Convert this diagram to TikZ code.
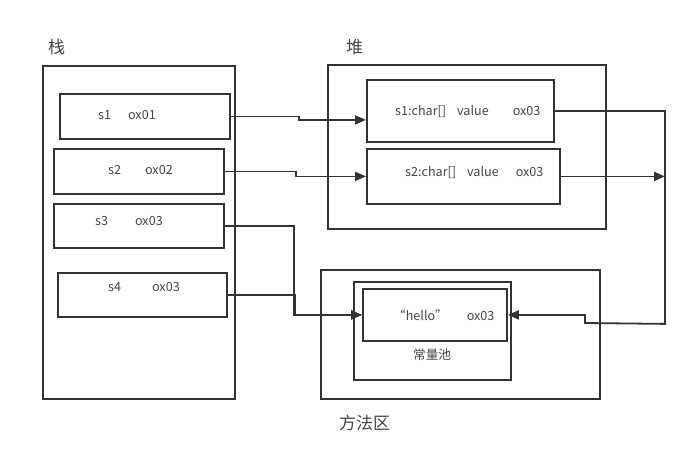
\documentclass[tikz,border=0pt]{standalone}
\usepackage{fontspec}
\setmainfont{Noto Sans CJK SC}
\usetikzlibrary{arrows.meta}
\definecolor{ln}{HTML}{333333}
\definecolor{tx}{HTML}{444444}
\tikzset{
  box/.style={draw=ln, line width=1.8pt, inner sep=0pt, anchor=north west},
  txt/.style={text=tx, font=\fontsize{12.6}{14}\selectfont, inner sep=0pt, anchor=west},
  big/.style={text=tx, font=\fontsize{17}{20}\selectfont, inner sep=0pt, anchor=west},
  conn/.style={draw=ln, line width=1.8pt, -{Triangle[length=11pt,width=9pt]}},
  plain/.style={draw=ln, line width=1.8pt}
}
\begin{document}
\begin{tikzpicture}[x=1pt,y=-1pt]
\useasboundingbox (0,0) rectangle (690,466);
% containers
\node[box, minimum width=192pt, minimum height=333pt] (stack) at (42,65) {};
\node[box, minimum width=278pt, minimum height=164pt] (heap) at (327,64) {};
\node[box, minimum width=279pt, minimum height=129pt] (method) at (320,269) {};
\node[box, minimum width=157pt, minimum height=98pt] (pool) at (353,281) {};
% stack entries
\node[box, minimum width=170pt, minimum height=45pt] (s1) at (59,93) {};
\node[box, minimum width=170pt, minimum height=45pt] (s2) at (53,148) {};
\node[box, minimum width=170pt, minimum height=44pt] (s3) at (53,203) {};
\node[box, minimum width=169pt, minimum height=44pt] (s4) at (57,272) {};
% heap entries
\node[box, minimum width=187pt, minimum height=62pt] (h1) at (366,79) {};
\node[box, minimum width=193pt, minimum height=55pt] (h2) at (366,148) {};
% constant
\node[box, minimum width=144pt, minimum height=52pt] (hello) at (362,288) {};
% labels
\node[big] (lstack) at (48,47) {栈};
\node[big] (lheap) at (346,47) {堆};
\node[big] (lmethod) at (339,423) {方法区};
\node[txt] (lpool) at (413,355) {常量池};
\node[txt] (t1) at (98,115) {s1\hspace{17pt}ox01};
\node[txt] (t2) at (108,170) {s2\hspace{24pt}ox02};
\node[txt] (t3) at (95,221) {s3\hspace{27pt}ox03};
\node[txt] (t4) at (108,287) {s4\hspace{31pt}ox03};
\node[txt] (th1) at (395,112) {s1:char[]\hspace{11pt}value\hspace{24pt}ox03};
\node[txt] (th2) at (405,173) {s2:char[]\hspace{11pt}value\hspace{17pt}ox03};
\node[txt] (thello) at (393,315) {“hello”\hspace{19pt}ox03};
% connectors
\coordinate (rt) at (665,0);
\draw[conn] (s1.east) -- ++(68,0) |- ([yshift=-9pt]h1.west);
\draw[conn] (s2.east) -- ++(71,0) |- (h2.west);
\draw[conn] (s3.east) -- ++(69,0) |- (hello.west);
\draw[conn] (s4.east) -- ++(67,0) |- (hello.west);
\draw[conn] (h1.east) -- (rt |- h1.east) -- ++(0,213) -- (585,323) |- (hello.east);
\draw[conn] (h2.east) -- (rt |- h2.east);
\end{tikzpicture}
\end{document}
